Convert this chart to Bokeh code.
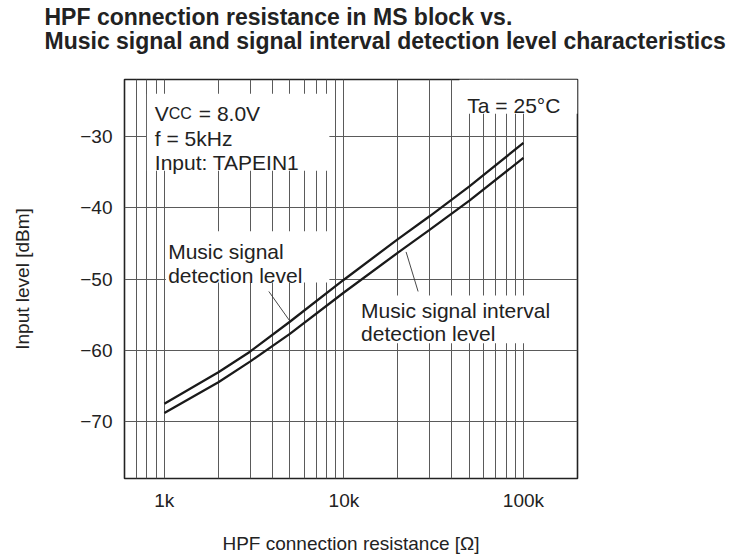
from bokeh.plotting import figure
from bokeh.models import FixedTicker, Range1d, Title, Label, BoxAnnotation
from bokeh.embed import file_html
from bokeh.resources import INLINE

# ---- data ----
resistance = [1000, 2000, 3000, 5000, 10000, 20000, 30000, 50000, 100000]
music_signal_level = [-67.5, -63.1, -60.2, -56.0, -50.1, -44.4, -41.2, -37.0, -30.9]
interval_level = [-68.8, -64.5, -61.6, -57.7, -51.9, -46.3, -43.1, -39.0, -33.0]

x_ticks = [1000, 10000, 100000]
x_tick_labels = ["1k", "10k", "100k"]
x_grid = [700, 800, 900, 1000, 2000, 3000, 4000, 5000, 6000, 7000, 8000, 9000,
          10000, 20000, 30000, 40000, 50000, 60000, 70000, 80000, 90000, 100000]
y_ticks = [-70, -60, -50, -40, -30]
y_tick_labels = ["\u221270", "\u221260", "\u221250", "\u221240", "\u221230"]

title_lines = ["HPF connection resistance in MS block vs.",
               "Music signal and signal interval detection level characteristics"]

FONT = "Liberation Sans"
INK = "#222222"

p = figure(width=744, height=556, x_axis_type="log",
           x_range=Range1d(600, 200000), y_range=Range1d(-78, -22),
           output_backend="svg", toolbar_location=None,
           min_border_left=124, min_border_right=167,
           min_border_top=78, min_border_bottom=77)
p.title = None
p.background_fill_color = "white"
p.border_fill_color = "white"
p.outline_line_color = INK
p.outline_line_width = 1.6

# titles (first added = closest to the frame)
p.add_layout(Title(text=title_lines[1], align="left", offset=-80, standoff=51,
                   text_font=FONT, text_font_size="23px", text_font_style="bold",
                   text_color=INK), "above")
p.add_layout(Title(text=title_lines[0], align="left", offset=-80, standoff=-59,
                   text_font=FONT, text_font_size="23px", text_font_style="bold",
                   text_color=INK), "above")

# grids
p.xgrid.ticker = FixedTicker(ticks=x_grid)
p.ygrid.ticker = FixedTicker(ticks=y_ticks)
for g in (p.xgrid, p.ygrid):
    g.grid_line_color = "#5a5a5a"
    g.grid_line_width = 1
    g.grid_line_alpha = 1

# axes
p.xaxis.ticker = FixedTicker(ticks=x_ticks)
p.xaxis.major_label_overrides = dict(zip(x_ticks, x_tick_labels))
p.yaxis.ticker = FixedTicker(ticks=y_ticks)
p.yaxis.major_label_overrides = dict(zip(y_ticks, y_tick_labels))
p.xaxis.axis_label = "HPF connection resistance [\u03a9]"
p.yaxis.axis_label = "Input level [dBm]"
for ax in (p.xaxis, p.yaxis):
    ax.axis_line_color = None
    ax.major_tick_line_color = None
    ax.minor_tick_line_color = None
    ax.major_label_text_font = FONT
    ax.major_label_text_font_size = "19px"
    ax.major_label_text_color = INK
    ax.axis_label_text_font = FONT
    ax.axis_label_text_font_size = "19px"
    ax.axis_label_text_font_style = "normal"
    ax.axis_label_text_color = INK
p.xaxis.major_label_standoff = 5
p.yaxis.major_label_standoff = 6
p.xaxis.axis_label_standoff = 19
p.yaxis.axis_label_standoff = 44

# curves
p.line(resistance, music_signal_level, line_color="#1a1a1a", line_width=2.3)
p.line(resistance, interval_level, line_color="#1a1a1a", line_width=2.3)

# white boxes behind annotation texts
boxes = [
    dict(left=800, right=8300, top=-24.0, bottom=-34.8),
    dict(left=44000, right=200000, top=-22, bottom=-26.8),
    dict(left=1020, right=8300, top=-43.3, bottom=-50.5),
    dict(left=11600, right=157000, top=-52.3, bottom=-59.0),
]
for b in boxes:
    p.add_layout(BoxAnnotation(fill_color="white", fill_alpha=1, line_color=None, **b))

# leader lines
leader_x0 = [3820, 22200]
leader_y0 = [-51.75, -46.2]
leader_x1 = [5000, 25900]
leader_y1 = [-55.9, -51.75]
p.segment(leader_x0, leader_y0, leader_x1, leader_y1, line_color="#333333", line_width=0.9)


def lab(x, y, text, size="21px", xo=0):
    p.add_layout(Label(x=x, y=y, text=text, x_offset=xo, text_font=FONT,
                       text_font_size=size, text_color=INK,
                       text_baseline="alphabetic", text_align="left"))


lab(885, -26.8, "V")
lab(885, -26.8, "CC", size="16px", xo=14)
lab(885, -26.8, "= 8.0V", xo=44)
lab(885, -30.3, "f = 5kHz")
lab(885, -33.6, "Input: TAPEIN1")
lab(48700, -25.65, "Ta = 25\u00b0C")
lab(1050, -46.2, "Music signal")
lab(1050, -49.5, "detection level")
lab(12460, -54.4, "Music signal interval")
lab(12460, -57.7, "detection level")

open("out.html", "w").write(file_html(p, INLINE))
